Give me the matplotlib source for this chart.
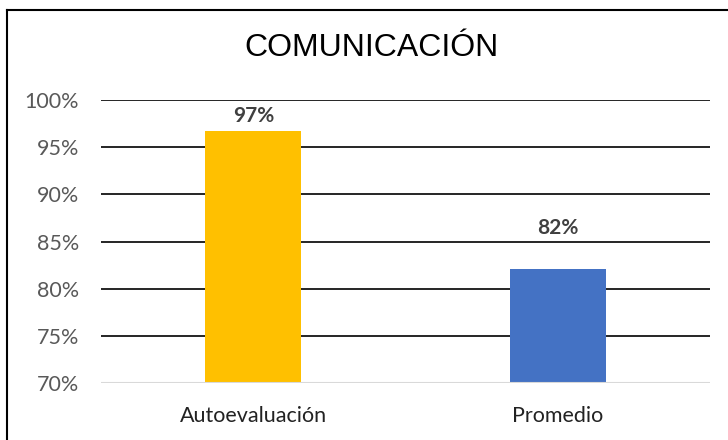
import matplotlib.pyplot as plt
from matplotlib.lines import Line2D
from matplotlib.ticker import FuncFormatter

# Data
categories = ['Autoevaluación', 'Promedio']
values = [96.7, 82.1]
labels = ['97%', '82%']
bar_colors = ['#FFC000', '#4472C4']
y_ticks = [70, 75, 80, 85, 90, 95, 100]

plt.rcParams['font.family'] = ['Lato', 'DejaVu Sans']

fig = plt.figure(figsize=(7.28, 4.4), dpi=100)
ax = fig.add_axes([101 / 728, 1 - 383.3 / 440, 609 / 728, 283.3 / 440])

x = list(range(len(categories)))
bars = ax.bar(x, values, width=0.315, color=bar_colors, zorder=3)

ax.set_xlim(-0.5, 1.5)
ax.set_ylim(70, 100)
ax.set_yticks(y_ticks)
ax.yaxis.set_major_formatter(FuncFormatter(lambda v, _: f'{v:.0f}%'))
ax.set_xticks(x)
ax.set_xticklabels(categories)

# gridlines: black, except bottom line light gray
for t in y_ticks[1:]:
    ax.axhline(t, color='black', linewidth=1.2, zorder=1)
ax.axhline(70, color='#D9D9D9', linewidth=1.5, zorder=4)

for s in ax.spines.values():
    s.set_visible(False)
ax.tick_params(axis='y', length=0, pad=16, labelsize=15.5, labelcolor='#595959')
ax.tick_params(axis='x', length=0, pad=16, labelsize=15.5, labelcolor='#222222')

# labels were placed by hand in the original, so offsets differ
label_offsets = [4, 22]
for b, lab, off in zip(bars, labels, label_offsets):
    ax.annotate(lab, (b.get_x() + b.get_width() / 2, b.get_height()),
                xytext=(0, off), textcoords='offset points',
                ha='center', va='bottom', fontsize=15, fontweight='bold',
                color='#404040')

fig.text(372 / 728, 1 - 48 / 440, 'COMUNICACIÓN', ha='center', va='center',
         fontsize=23, family='Liberation Sans', color='black')

# chart border (only top and left visible in the reference crop)
fig.add_artist(Line2D([7 / 728, 1], [1 - 10 / 440, 1 - 10 / 440],
                      color='black', linewidth=1.5, transform=fig.transFigure))
fig.add_artist(Line2D([7 / 728, 7 / 728], [0, 1 - 10 / 440],
                      color='black', linewidth=1.5, transform=fig.transFigure))

fig.savefig('out.png', dpi=100)
